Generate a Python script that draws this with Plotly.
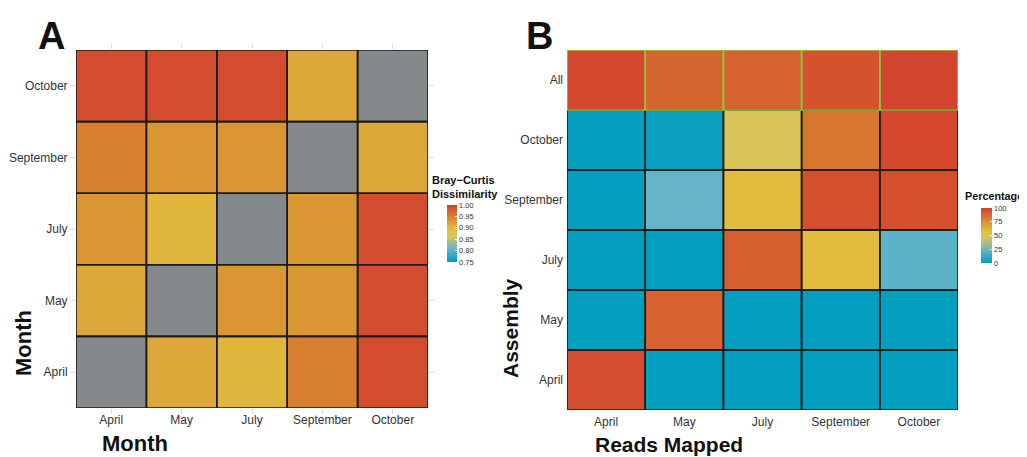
import plotly.graph_objects as go

# ---------------- data ----------------
months = ["April", "May", "July", "September", "October"]
assembly_rows = ["April", "May", "July", "September", "October", "All"]

# Panel A: Bray-Curtis dissimilarity (rows = Month on y, columns = Month on x); None = diagonal
bc_april = [None, 0.915, 0.90, 0.95, 0.99]
bc_may = [0.915, None, 0.93, 0.93, 0.99]
bc_july = [0.93, 0.90, None, 0.93, 0.99]
bc_september = [0.95, 0.93, 0.93, None, 0.915]
bc_october = [0.99, 0.99, 0.99, 0.915, None]

# Panel B: percentage of reads mapped (rows = Assembly, columns = Reads Mapped)
pct_april = [96, 1, 1, 1, 1]
pct_may = [1, 89, 1, 1, 1]
pct_july = [1, 1, 90, 58, 21]
pct_september = [1, 23, 58, 95, 95]
pct_october = [1, 2, 48, 83, 97]
pct_all = [97, 88, 89, 94, 98]

bc_ticks = [0.75, 0.80, 0.85, 0.90, 0.95, 1.00]
pct_ticks = [0, 25, 50, 75, 100]

# ---------------- styling ----------------
OFF = 8  # page body margin
W, H = 1027 - OFF, 457 - OFF
FONT = "Arial, Liberation Sans, sans-serif"
scale = [[0.0, "#009EBE"], [0.22, "#5FB3CA"], [0.45, "#D5C45E"], [0.56, "#E2C140"],
         [0.78, "#D8862F"], [1.0, "#D33F2E"]]
GRAY = "#848A8C"
GREEN = "#8CC63E"

bc_z = [bc_april, bc_may, bc_july, bc_september, bc_october]
pct_z = [pct_april, pct_may, pct_july, pct_september, pct_october, pct_all]
diag_z = [[1 if v is None else None for v in row] for row in bc_z]

def px(x):
    return (x - OFF) / W

def py(y):
    return 1 - (y - OFF) / H

fig = go.Figure()

fig.add_trace(go.Heatmap(
    x=months, y=months, z=bc_z, colorscale=scale, zmin=0.75, zmax=1.0,
    xaxis="x", yaxis="y", hoverongaps=False,
    colorbar=dict(x=px(447), xanchor="left", xref="paper", y=py(233.5), yanchor="middle",
                  len=57, lenmode="pixels", thickness=10, xpad=0, ypad=0,
                  outlinewidth=0, ticks="inside", ticklen=2, tickcolor="white",
                  tickvals=bc_ticks, ticktext=[f"{v:.2f}" for v in bc_ticks],
                  tickfont=dict(size=7.5, color="#333333", family=FONT)),
))
fig.add_trace(go.Heatmap(
    x=months, y=months, z=diag_z, colorscale=[[0, GRAY], [1, GRAY]],
    showscale=False, xaxis="x", yaxis="y", hoverongaps=False,
))
fig.add_trace(go.Heatmap(
    x=months, y=assembly_rows, z=pct_z, colorscale=scale, zmin=0, zmax=100,
    xaxis="x2", yaxis="y2",
    colorbar=dict(x=px(981), xanchor="left", xref="paper", y=py(235.5), yanchor="middle",
                  len=55, lenmode="pixels", thickness=11, xpad=0, ypad=0,
                  outlinewidth=0, ticks="inside", ticklen=2, tickcolor="white",
                  tickvals=pct_ticks, ticktext=[str(v) for v in pct_ticks],
                  tickfont=dict(size=7.5, color="#333333", family=FONT)),
))

shapes = []
for i in range(len(months)):
    for j in range(len(months)):
        shapes.append(dict(type="rect", xref="x", yref="y", x0=i - 0.5, x1=i + 0.5,
                           y0=j - 0.5, y1=j + 0.5, line=dict(color="#1a1a1a", width=1.6),
                           layer="above"))
green = []
for i in range(len(months)):
    for j in range(len(assembly_rows)):
        rect = dict(type="rect", xref="x2", yref="y2", x0=i - 0.5, x1=i + 0.5,
                    y0=j - 0.5, y1=j + 0.5, layer="above")
        if assembly_rows[j] == "All":
            rect["line"] = dict(color=GREEN, width=1.6)
            green.append(rect)
        else:
            rect["line"] = dict(color="#1a1a1a", width=1.6)
            shapes.append(rect)
shapes += green

tickfont = dict(size=12, color="#333333", family=FONT)
axA = dict(showgrid=False, zeroline=False, tickfont=tickfont, ticks="outside",
           ticklen=5, tickcolor="#DDDDDD", mirror="ticks", showline=False)
axB = dict(showgrid=False, zeroline=False, tickfont=tickfont, ticks="",
           showline=False)

fig.update_layout(
    width=W, height=H, margin=dict(l=0, r=0, t=0, b=0),
    paper_bgcolor="white", plot_bgcolor="white", font=dict(family=FONT),
    xaxis=dict(domain=[px(76), px(428)], anchor="y", range=[-0.5, 4.5],
               ticklabelstandoff=-4, **axA),
    yaxis=dict(domain=[py(408), py(50)], anchor="x", range=[-0.5, 4.5], **axA),
    xaxis2=dict(domain=[px(567), px(958)], anchor="y2", range=[-0.5, 4.5],
                ticklabelstandoff=3, **axB),
    yaxis2=dict(domain=[py(410), py(50)], anchor="x2", range=[-0.5, 5.5],
                ticklabelstandoff=3, **axB),
    shapes=shapes,
    annotations=[
        dict(text="<b>A</b>", x=px(36), y=py(13), xref="paper", yref="paper",
             xanchor="left", yanchor="top", showarrow=False,
             font=dict(size=38, color="#111111", family=FONT)),
        dict(text="<b>B</b>", x=px(524), y=py(13), xref="paper", yref="paper",
             xanchor="left", yanchor="top", showarrow=False,
             font=dict(size=38, color="#111111", family=FONT)),
        dict(text="<b>Month</b>", x=px(100), y=py(458), xref="paper", yref="paper",
             xanchor="left", yanchor="bottom", showarrow=False,
             font=dict(size=22, color="#111111", family=FONT)),
        dict(text="<b>Reads Mapped</b>", x=px(593), y=py(458), xref="paper", yref="paper",
             xanchor="left", yanchor="bottom", showarrow=False,
             font=dict(size=21, color="#111111", family=FONT)),
        dict(text="<b>Month</b>", x=px(23), y=py(343), xref="paper", yref="paper",
             xanchor="center", yanchor="middle", textangle=-90, showarrow=False,
             font=dict(size=22, color="#111111", family=FONT)),
        dict(text="<b>Assembly</b>", x=px(510), y=py(328), xref="paper", yref="paper",
             xanchor="center", yanchor="middle", textangle=-90, showarrow=False,
             font=dict(size=21, color="#111111", family=FONT)),
        dict(text="<b>Bray\u2212Curtis<br>Dissimilarity</b>", x=px(430), y=py(172),
             xref="paper", yref="paper", xanchor="left", yanchor="top", align="left",
             showarrow=False, font=dict(size=11, color="#111111", family=FONT)),
        dict(text="<b>Percentage</b>", x=px(963), y=py(188),
             xref="paper", yref="paper", xanchor="left", yanchor="top", align="left",
             showarrow=False, font=dict(size=10.8, color="#111111", family=FONT)),
    ],
)

fig.write_html("out.html")
